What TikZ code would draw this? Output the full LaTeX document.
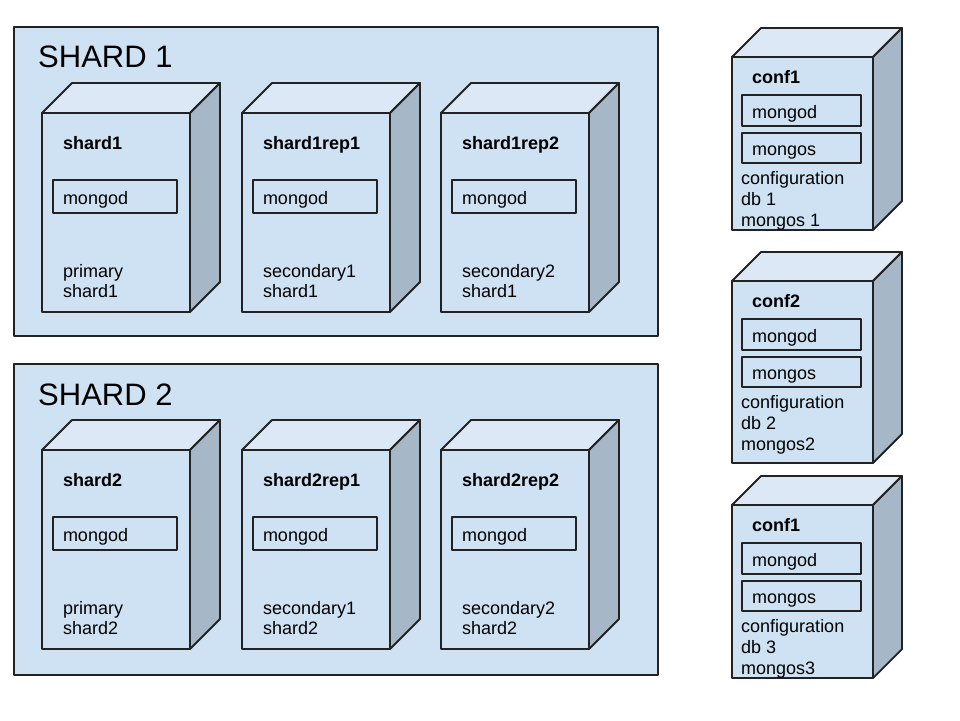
\documentclass[tikz,border=0pt]{standalone}
\usepackage{fontspec}
\setmainfont{Liberation Sans}
\usetikzlibrary{calc}
\definecolor{frontc}{HTML}{CFE2F3}
\definecolor{topc}{HTML}{DCE8F5}
\definecolor{sidec}{HTML}{A6B7C8}
\definecolor{linec}{HTML}{222222}
\tikzset{
  edge/.style={draw=linec, line width=1.8pt, line join=round},
  frontface/.style={edge, fill=frontc, rectangle, inner sep=0pt, outer sep=0pt, anchor=north west},
  topface/.style={edge, fill=topc},
  sideface/.style={edge, fill=sidec},
  groupbox/.style={edge, fill=frontc, rectangle, inner sep=0pt, outer sep=0pt, anchor=north west},
  grouptitle/.style={font=\fontsize{31}{34}\selectfont, inner sep=0pt, anchor=base west},
  hosttitle/.style={font=\bfseries\fontsize{18}{20}\selectfont, inner sep=0pt, anchor=base west},
  procbox/.style={edge, fill=frontc, anchor=north west, align=left, inner sep=0pt, inner xsep=10pt,
    outer sep=0pt, text width=#1, text height=15pt, text depth=0pt, font=\fontsize{18}{20}\selectfont},
  notetext/.style={font=\fontsize{18}{19.5}\selectfont, inner sep=0pt, anchor=base west, align=left},
  confnote/.style={font=\fontsize{18}{21}\selectfont, inner sep=0pt, anchor=base west, align=left},
}
\newcommand\mkcube[6]{%
  \node[frontface, minimum width=#4pt, minimum height=#5pt] (#1) at (#2,#3) {};
  \draw[topface] (#1.north west) -- ++(#6,-#6) -- ++(#4,0) -- (#1.north east) -- cycle;
  \draw[sideface] (#1.north east) -- ++(#6,-#6) -- ++(0,#5) -- (#1.south east) -- cycle;
}
% multi-line notes: the base anchor lies on the last line
\newcommand\shardhost[6]{% name, x, y, title, note1, note2
  \mkcube{#1}{#2}{#3}{148}{199}{30}
  \node[hosttitle] (#1t) at (#2+21,#3+36) {#4};
  \node[procbox=104pt, minimum height=33pt] (#1m) at (#2+11,#3+67) {mongod};
  \node[notetext] (#1n) at (#2+21,#3+184) {#5\\#6};
}
\newcommand\confhost[7]{% name, y, height, title, l1, l2, l3
  \mkcube{#1}{732}{#2}{141}{#3}{29}
  \node[hosttitle] (#1t) at (752,#2+26) {#4};
  \node[procbox=99pt, minimum height=31pt] (#1d) at (742,#2+38) {mongod};
  \node[procbox=99pt, minimum height=30pt] (#1s) at (742,#2+76) {mongos};
  \node[confnote] (#1n) at (741,#2+169) {#5\\#6\\#7};
}
\begin{document}
\begin{tikzpicture}[x=1pt, y=-1pt]
\useasboundingbox[fill=white] (0,0) rectangle (960,720);
% shard 1
\node[groupbox, minimum width=644pt, minimum height=309pt] (g1) at (14,27) {};
\node[grouptitle] (g1t) at (38,67) {SHARD 1};
\shardhost{s1a}{42}{113}{shard1}{primary}{shard1}
\shardhost{s1b}{242}{113}{shard1rep1}{secondary1}{shard1}
\shardhost{s1c}{441}{113}{shard1rep2}{secondary2}{shard1}
% shard 2
\node[groupbox, minimum width=644pt, minimum height=311pt] (g2) at (14,364) {};
\node[grouptitle] (g2t) at (38,405) {SHARD 2};
\shardhost{s2a}{42}{450}{shard2}{primary}{shard2}
\shardhost{s2b}{242}{450}{shard2rep1}{secondary1}{shard2}
\shardhost{s2c}{441}{450}{shard2rep2}{secondary2}{shard2}
% config servers
\confhost{c1}{57}{173}{conf1}{configuration}{db 1}{mongos 1}
\confhost{c2}{281}{182}{conf2}{configuration}{db 2}{mongos2}
\confhost{c3}{505}{173}{conf1}{configuration}{db 3}{mongos3}
\end{tikzpicture}
\end{document}
